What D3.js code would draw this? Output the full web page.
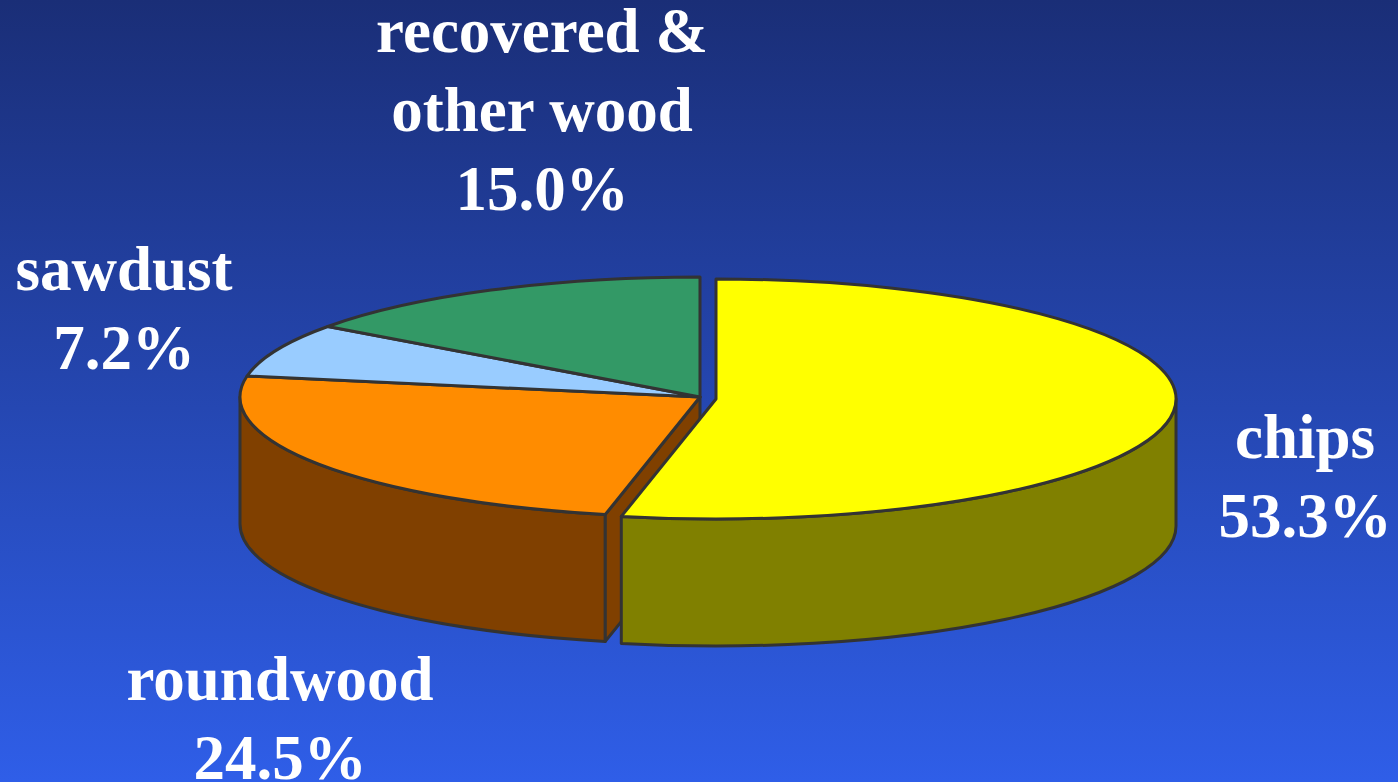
<!DOCTYPE html>
<html><head><meta charset="utf-8">
<script src="https://cdn.jsdelivr.net/npm/d3@7"></script>
<style>html,body{margin:0;padding:0;overflow:hidden;}svg{display:block;}</style>
</head><body>
<svg id="chart" width="1398" height="782"></svg>
<script>
// ---- data ----
const categories = ["chips", "roundwood", "sawdust", "recovered & other wood"];
const values = [53.3, 24.5, 7.2, 15.0];
const labelLines = [["chips", "53.3%"], ["roundwood", "24.5%"], ["sawdust", "7.2%"], ["recovered &", "other wood", "15.0%"]];
const topColors = ["#ffff00", "#ff8c00", "#99ccff", "#339966"];
const sideColors = ["#808000", "#804000", "#6b8fb3", "#236b47"];

// ---- layout ----
const W = 1398, H = 782;
const cx = 700, cy = 397, rx = 460, ry = 120, depth = 127;
const explode = [{dx: 16, dy: 2}, {dx: 0, dy: 0}, {dx: 0, dy: 0}, {dx: 0, dy: 0}];
const labelPos = [{x: 1305, y: 458}, {x: 280, y: 700}, {x: 124, y: 290}, {x: 542, y: 52}];
const lineH = 79;

const svg = d3.select("#chart");
const defs = svg.append("defs");
const g = defs.append("linearGradient").attr("id", "bg").attr("x1", 0).attr("y1", 0).attr("x2", 0).attr("y2", 1);
g.append("stop").attr("offset", "0%").attr("stop-color", "#1a2e77");
g.append("stop").attr("offset", "100%").attr("stop-color", "#2f5ee8");
svg.append("rect").attr("width", W).attr("height", H).attr("fill", "url(#bg)");

const pie = d3.pie().sort(null).value(d => d);
const arcs = pie(values).map((a, i) => Object.assign({}, a, {i, ox: cx + explode[i].dx, oy: cy + explode[i].dy}));

function pt(a, ox, oy, dz) { return [ox + rx * Math.sin(a), oy - ry * Math.cos(a) + (dz || 0)]; }

function topPath(d) {
  const p0 = pt(d.startAngle, d.ox, d.oy), p1 = pt(d.endAngle, d.ox, d.oy);
  const large = (d.endAngle - d.startAngle) > Math.PI ? 1 : 0;
  return `M${d.ox},${d.oy}L${p0[0]},${p0[1]}A${rx},${ry} 0 ${large} 1 ${p1[0]},${p1[1]}Z`;
}
function sidePath(d) {
  const s = Math.max(d.startAngle, Math.PI / 2), e = Math.min(d.endAngle, 3 * Math.PI / 2);
  if (e <= s) return null;
  const a = pt(s, d.ox, d.oy), b = pt(e, d.ox, d.oy), c = pt(e, d.ox, d.oy, depth), dd = pt(s, d.ox, d.oy, depth);
  const large = (e - s) > Math.PI ? 1 : 0;
  return `M${a[0]},${a[1]}A${rx},${ry} 0 ${large} 1 ${b[0]},${b[1]}L${c[0]},${c[1]}A${rx},${ry} 0 ${large} 0 ${dd[0]},${dd[1]}Z`;
}
function cutFace(d, ang) {
  const r0 = pt(ang, d.ox, d.oy), r1 = pt(ang, d.ox, d.oy, depth);
  return `M${d.ox},${d.oy}L${r0[0]},${r0[1]}L${r1[0]},${r1[1]}L${d.ox},${d.oy + depth}Z`;
}

function styled(sel, fill) {
  return sel.attr("fill", fill).attr("stroke", "#333333").attr("stroke-width", 3).attr("stroke-linejoin", "round");
}

const layer = svg.append("g");
// non-exploded slices first (back group)
const rest = arcs.filter(d => d.i !== 0);
rest.forEach(d => { const p = sidePath(d); if (p) styled(layer.append("path").attr("d", p), sideColors[d.i]); });
// cut face of the slice adjacent to the exploded one
const rw = arcs[1];
styled(layer.append("path").attr("d", cutFace(rw, rw.startAngle)), sideColors[1]);
rest.forEach(d => styled(layer.append("path").attr("d", topPath(d)), topColors[d.i]));
// exploded chips
const ch = arcs[0];
styled(layer.append("path").attr("d", sidePath(ch)), sideColors[0]);
styled(layer.append("path").attr("d", topPath(ch)), topColors[0]);

// labels
const lab = svg.append("g").attr("font-family", "'Liberation Serif','Times New Roman',serif")
  .attr("font-weight", "bold").attr("font-size", 63).attr("fill", "#ffffff").attr("text-anchor", "middle");
arcs.forEach(d => {
  const t = lab.append("text").attr("x", labelPos[d.i].x).attr("y", labelPos[d.i].y);
  labelLines[d.i].forEach((ln, k) => t.append("tspan").attr("x", labelPos[d.i].x).attr("dy", k === 0 ? 0 : lineH).text(ln));
});
</script>
</body></html>
